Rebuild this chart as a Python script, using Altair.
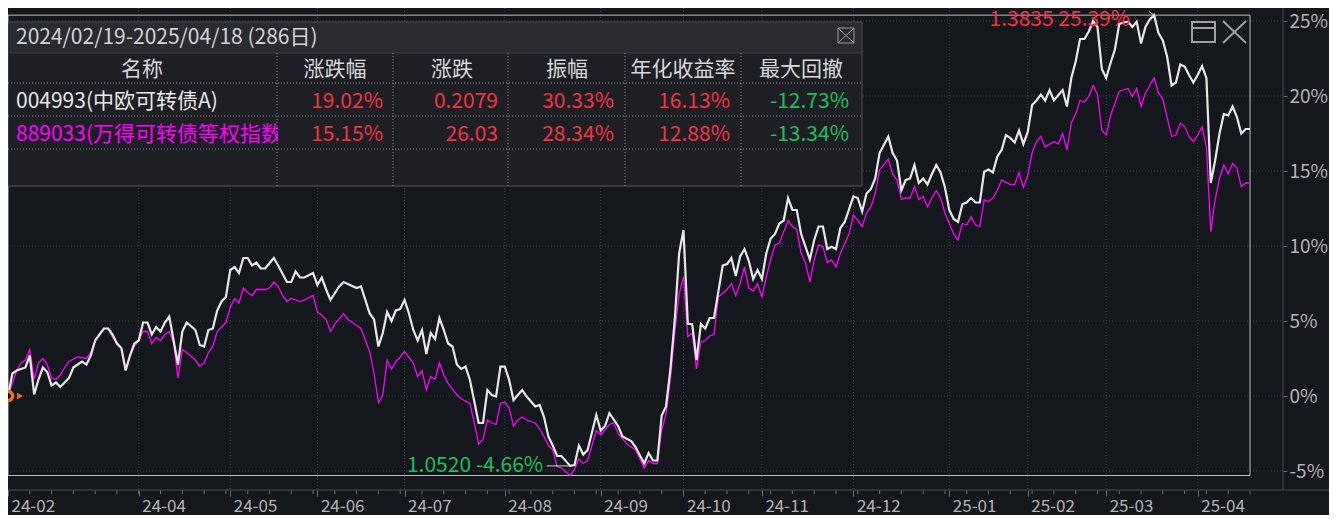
import altair as alt
import pandas as pd

FONT = "Noto Sans CJK SC"

# ---------------- data (trading-day index, cumulative return %) ----------------
fund_series = [
    (0, 0.0), (1, 1.5), (2, 1.7), (4, 1.9), (5, 2.7), (6, 0.1), (7, 1.1), (8, 1.9), (9, 1.6), (10, 0.7),
    (11, 0.9), (12, 0.6), (14, 1.2), (15, 1.9), (16, 2.1), (17, 2.3), (18, 2.1), (19, 2.7), (20, 3.7), (21, 4.1),
    (22, 4.5), (23, 4.5), (24, 4.1), (25, 3.5), (26, 3.2), (27, 1.7), (28, 2.7), (29, 3.5), (30, 3.7), (31, 4.9),
    (32, 4.9), (33, 4.1), (34, 4.6), (35, 4.3), (36, 4.9), (37, 5.3), (38, 3.7), (39, 2.1), (40, 4.3), (41, 4.9),
    (43, 4.4), (44, 3.4), (45, 3.3), (46, 4.4), (47, 4.5), (48, 5.7), (49, 6.3), (50, 6.6), (51, 8.4), (52, 8.6),
    (53, 8.2), (54, 9.2), (55, 9.2), (56, 8.7), (57, 8.9), (58, 8.5), (59, 8.5), (61, 9.2), (62, 8.7), (64, 7.6),
    (65, 7.6), (66, 8.3), (67, 7.9), (68, 7.9), (70, 8.2), (71, 7.4), (72, 7.9), (73, 7.1), (74, 6.4), (76, 7.3),
    (77, 7.6), (80, 7.2), (81, 7.3), (83, 5.5), (84, 5.1), (85, 3.3), (86, 4.2), (87, 5.6), (88, 5.0), (89, 5.7),
    (90, 5.8), (91, 6.4), (92, 5.5), (93, 4.4), (94, 3.7), (95, 4.4), (96, 2.8), (97, 4.2), (98, 3.8), (99, 5.2),
    (100, 4.4), (101, 3.5), (102, 3.3), (103, 2.1), (104, 1.8), (105, 1.96), (106, 1.07), (108, -1.8), (109, -1.8),
    (110, 0.4), (111, 0.07), (112, -0.04), (113, 1.96), (114, 1.96), (115, 1.07), (116, -0.27), (117, 0.07),
    (118, 0.4), (119, -0.04), (121, -0.7), (122, -0.6), (123, -1.4), (124, -2.7), (125, -3.3), (126, -4.0),
    (127, -4.0), (129, -4.66), (130, -4.6), (131, -3.3), (132, -3.9), (133, -3.6), (135, -1.27), (136, -2.3),
    (137, -2.0), (138, -1.15), (140, -2.0), (141, -2.7), (143, -3.0), (144, -3.4), (146, -4.5), (147, -3.8),
    (148, -4.3), (149, -4.3), (150, -1.3), (151, -0.7), (152, 1.8), (153, 5.07), (154, 9.5), (155, 11.07),
    (156, 4.8), (157, 4.8), (158, 2.4), (159, 4.8), (160, 4.5), (161, 5.2), (162, 5.2), (164, 8.7), (165, 8.8),
    (166, 9.2), (167, 8.0), (168, 9.3), (169, 9.8), (170, 9.0), (171, 7.8), (172, 8.4), (173, 7.8), (174, 9.5),
    (175, 10.5), (176, 10.8), (177, 11.5), (178, 11.7), (179, 13.2), (180, 12.4), (181, 12.4), (182, 10.8),
    (183, 9.95), (184, 9.1), (185, 10.4), (186, 11.3), (187, 11.3), (188, 9.8), (189, 9.95), (190, 9.8),
    (191, 11.2), (192, 11.6), (194, 13.3), (195, 13.2), (196, 12.3), (197, 13.5), (198, 13.8), (199, 14.5),
    (200, 16.2), (202, 17.3), (203, 16.2), (204, 15.7), (205, 13.7), (206, 14.4), (207, 14.5), (208, 15.4),
    (209, 14.2), (210, 14.5), (211, 14.1), (212, 14.8), (213, 15.4), (214, 14.9), (215, 13.9), (216, 12.4),
    (217, 11.8), (218, 11.6), (219, 12.8), (220, 12.9), (221, 13.2), (222, 12.9), (223, 12.9), (224, 14.95),
    (225, 15.1), (226, 14.9), (227, 15.96), (228, 16.4), (229, 17.4), (230, 17.2), (231, 16.9), (232, 17.7),
    (233, 16.8), (234, 17.6), (235, 19.4), (236, 19.7), (237, 20.1), (238, 19.7), (239, 20.4), (240, 19.7),
    (242, 20.4), (243, 19.3), (244, 21.2), (245, 22.3), (246, 23.8), (247, 23.8), (248, 24.3), (249, 25.0),
    (250, 24.6), (251, 21.8), (252, 21.2), (253, 22.2), (254, 23.1), (255, 24.8), (256, 24.9), (257, 24.95),
    (258, 24.6), (259, 24.95), (260, 23.5), (261, 24.6), (262, 25.1), (263, 25.39), (264, 24.2), (265, 23.7),
    (266, 22.6), (267, 20.7), (268, 20.9), (269, 22.1), (270, 21.96), (271, 21.4), (272, 20.9), (273, 21.4),
    (274, 22.0), (275, 21.2), (276, 14.2), (277, 15.7), (278, 17.5), (279, 18.8), (280, 18.7), (281, 19.3),
    (282, 18.6), (283, 17.5), (284, 17.8), (285, 17.8),
]

index_series = [
    (0, 0.0), (2, 1.7), (3, 2.2), (4, 2.4), (5, 3.1), (6, 1.1), (7, 2.2), (8, 2.5), (9, 2.1), (10, 1.2),
    (11, 1.1), (12, 1.4), (13, 1.9), (14, 2.3), (16, 2.6), (18, 2.5), (19, 2.9), (20, 3.7), (21, 4.1), (22, 4.5),
    (23, 4.5), (24, 3.9), (26, 3.2), (27, 1.9), (28, 2.7), (29, 3.3), (30, 3.7), (31, 4.3), (32, 4.3), (33, 3.5),
    (34, 3.9), (35, 3.7), (36, 4.1), (37, 4.3), (38, 3.5), (39, 1.2), (40, 3.1), (41, 2.9), (43, 2.4), (44, 2.0),
    (45, 2.2), (46, 2.9), (47, 3.3), (48, 4.3), (49, 4.6), (50, 4.9), (51, 5.9), (52, 6.5), (53, 6.2), (54, 7.2),
    (55, 6.9), (56, 6.7), (57, 7.1), (59, 7.1), (60, 7.2), (61, 7.6), (62, 7.3), (63, 6.7), (64, 6.3), (65, 6.5),
    (67, 6.3), (68, 6.4), (70, 6.7), (71, 5.6), (72, 5.4), (73, 5.1), (74, 4.3), (75, 4.8), (77, 5.5), (78, 5.1),
    (80, 4.7), (81, 4.5), (83, 2.96), (84, 1.5), (85, -0.44), (86, 0.07), (87, 2.4), (88, 1.8), (89, 2.3),
    (90, 2.6), (91, 2.96), (93, 2.2), (94, 1.3), (95, 1.7), (96, 0.4), (97, 1.3), (98, 1.1), (99, 2.2), (100, 1.4),
    (101, 0.84), (103, 0.07), (104, -0.18), (106, -0.5), (107, -1.8), (108, -3.2), (109, -2.9), (110, -1.6),
    (111, -1.8), (112, -1.9), (113, -0.5), (114, -0.4), (115, -0.8), (116, -2.0), (117, -1.6), (118, -1.4),
    (119, -1.6), (121, -1.8), (122, -2.2), (123, -2.7), (124, -3.3), (125, -3.6), (126, -4.7), (127, -4.8),
    (129, -5.3), (130, -4.9), (131, -4.2), (132, -4.5), (133, -4.3), (135, -2.3), (136, -2.6), (138, -1.9),
    (139, -1.8), (140, -2.5), (142, -3.2), (144, -3.6), (146, -4.8), (147, -4.3), (148, -4.5), (149, -4.5),
    (150, -2.3), (151, -1.2), (152, 1.07), (153, 4.2), (154, 6.8), (155, 7.95), (156, 3.95), (157, 4.2),
    (158, 1.8), (159, 3.6), (160, 3.7), (161, 4.0), (162, 4.1), (163, 6.6), (165, 7.1), (166, 7.5), (167, 6.7),
    (168, 7.5), (169, 8.6), (170, 7.2), (171, 7.0), (172, 7.5), (173, 6.6), (174, 7.95), (175, 9.07),
    (176, 10.07), (177, 10.2), (179, 11.7), (180, 11.3), (181, 11.1), (182, 9.5), (183, 8.9), (184, 7.6),
    (185, 9.07), (186, 10.07), (187, 9.95), (188, 8.9), (189, 9.07), (190, 8.6), (191, 9.5), (193, 10.8),
    (194, 12.07), (195, 11.7), (196, 11.3), (197, 12.2), (198, 12.6), (199, 13.5), (200, 15.07), (202, 15.8),
    (203, 14.8), (204, 14.4), (205, 13.1), (206, 13.2), (207, 13.2), (208, 13.96), (209, 13.1), (210, 13.3),
    (211, 12.6), (212, 13.2), (213, 13.7), (214, 13.2), (215, 12.2), (216, 11.5), (217, 10.8), (218, 10.4),
    (219, 11.5), (220, 11.4), (221, 11.96), (222, 11.4), (223, 11.3), (224, 13.07), (225, 12.96), (226, 13.2),
    (227, 13.7), (228, 14.4), (230, 14.1), (231, 14.1), (232, 14.9), (233, 13.9), (234, 14.7), (235, 16.2),
    (236, 16.96), (237, 17.3), (238, 16.6), (240, 16.96), (241, 16.8), (242, 17.5), (243, 16.4), (244, 18.2),
    (245, 18.8), (246, 19.7), (247, 19.6), (248, 19.96), (249, 20.7), (250, 20.1), (251, 17.7), (252, 17.4),
    (253, 18.7), (255, 20.3), (256, 20.4), (257, 20.5), (258, 19.96), (259, 20.5), (260, 19.3), (261, 20.2),
    (262, 20.7), (263, 21.2), (264, 20.2), (265, 19.8), (267, 17.3), (268, 17.4), (269, 18.2), (270, 17.96),
    (271, 17.3), (272, 16.96), (273, 17.4), (274, 17.96), (275, 16.6), (276, 10.96), (277, 13.07), (278, 14.5),
    (279, 15.4), (280, 14.8), (281, 15.5), (282, 15.2), (283, 13.96), (284, 14.2), (285, 14.2),
]

month_days = [0, 30, 51, 71, 91, 114, 136, 155, 173, 194, 216, 234, 252, 273]
month_labels = ["24-02", "24-04", "24-05", "24-06", "24-07", "24-08", "24-09",
                "24-10", "24-11", "24-12", "25-01", "25-02", "25-03", "25-04"]
y_ticks = [-5, 0, 5, 10, 15, 20, 25]

peak_nav = "1.3835"
trough_nav = "1.0520"

table_title = "2024/02/19-2025/04/18 (286日)"
table_headers = ["名称", "涨跌幅", "涨跌", "振幅", "年化收益率", "最大回撤"]
row_names = ["004993(中欧可转债A)", "889033(万得可转债等权指数)"]
row_values = [
    ["19.02%", "0.2079", "30.33%", "16.13%", "-12.73%"],
    ["15.15%", "26.03", "28.34%", "12.88%", "-13.34%"],
]

# ---------------- layout / style ----------------
W, H = 1321, 507    # whole drawing
AX_Y = 482          # bottom axis line (view height)
AX_X = 1275         # right axis line (view width)
BG = "#14171c"
GRID = "#3a3d45"
SEP = "#4a4d55"
AXIS_TXT = "#b4b4b4"
WHITE = "#e8e8e8"
MAGENTA = "#ff00ff"
RED = "#f5333f"
GREEN = "#1fbf5a"
ORANGE = "#f07018"
TBL_BG = "#1e1f25"
FS = 21

tbl = dict(l=0, r=854, t=14, b=178, title_b=45)
tbl_hlines = [75, 108, 141]
tbl_vlines = [269, 385, 500, 617, 733]
header_cx = [134, 327, 444, 559, 675, 793]
header_cy = 62
row_cy = [94, 127]
value_right = [375, 490, 606, 722, 841]
name_color = [WHITE, MAGENTA]

fund_df = pd.DataFrame(fund_series, columns=["day", "val"])
index_df = pd.DataFrame(index_series, columns=["day", "val"])
last_day = int(fund_df["day"].max())
vmax = max(fund_df["val"].max(), index_df["val"].max())
vmin = min(fund_df["val"].min(), index_df["val"].min())
peak_row = fund_df.loc[fund_df["val"].idxmax()]
trough_row = fund_df.loc[fund_df["val"].idxmin()]

x_scale = alt.Scale(domain=[0, last_day], range=[0, 1242], nice=False, zero=False)
y_scale = alt.Scale(domain=[-5, 25], range=[463, 13], nice=False, zero=False)

one = pd.DataFrame({"k": [0]})

label_expr = ("[" + ",".join(f"'{m}'" for m in month_labels) + "][indexof(["
              + ",".join(str(d) for d in month_days) + "], datum.value)]")

# the same axis objects are given to every layer that uses a scale, so they merge cleanly
x_axis = alt.Axis(values=month_days, labelExpr=label_expr, orient="bottom",
                  domain=False, grid=False, ticks=True, tickSize=6, tickColor="#6a6d74",
                  labelColor=AXIS_TXT, labelFont=FONT, labelFontSize=17, labelAlign="left",
                  labelBaseline="top", labelPadding=2, labelOffset=3, labelFlush=False,
                  labelOverlap=False, title=None)
y_axis = alt.Axis(values=y_ticks, labelExpr="datum.value + '%'", orient="right",
                  domain=False, grid=False, ticks=True, tickSize=4, tickColor="#6a6d74",
                  labelColor=AXIS_TXT, labelFont=FONT, labelFontSize=19, labelPadding=2,
                  labelAlign="left", labelBaseline="middle", labelFlush=False, title=None)


def X(field):
    return alt.X(field, scale=x_scale, axis=x_axis, title=None)


def Y(field):
    return alt.Y(field, scale=y_scale, axis=y_axis, title=None)


def XD(v):
    return alt.XDatum(v, scale=x_scale, axis=x_axis, title=None)


def YD(v):
    return alt.YDatum(v, scale=y_scale, axis=y_axis, title=None)


layers = []

# horizontal dotted grid
layers.append(
    alt.Chart(pd.DataFrame({"v": y_ticks})).mark_rule(color=GRID, strokeDash=[1, 2], strokeWidth=1).encode(
        y=Y("v:Q"), x=alt.value(0), x2=alt.value(AX_X))
)
# vertical dotted grid at month starts
layers.append(
    alt.Chart(pd.DataFrame({"d": month_days[1:]})).mark_rule(color=GRID, strokeDash=[1, 2], strokeWidth=1).encode(
        x=X("d:Q"), y=alt.value(0), y2=alt.value(AX_Y))
)
# minor ticks under the axis line
layers.append(
    alt.Chart(pd.DataFrame({"d": list(range(0, last_day + 1, 5))})).mark_rule(color="#6a6d74").encode(
        x=X("d:Q"), y=alt.value(AX_Y), y2=alt.value(AX_Y + 4))
)
# separators
layers.append(alt.Chart(one).mark_rule(color=SEP, strokeWidth=1).encode(
    x=alt.value(0), x2=alt.value(W), y=alt.value(AX_Y)))
layers.append(alt.Chart(one).mark_rule(color=SEP, strokeWidth=1).encode(
    x=alt.value(AX_X), y=alt.value(0), y2=alt.value(AX_Y)))

# plot frame bounded by data extremes
layers.append(alt.Chart(one).mark_rect(fillOpacity=0, stroke="#bdbdbd", strokeWidth=1).encode(
    x=XD(0), x2=alt.datum(last_day), y=YD(float(vmax)), y2=alt.datum(float(vmin))))

# series lines
layers.append(alt.Chart(index_df).mark_line(color=MAGENTA, strokeWidth=1.3).encode(
    x=X("day:Q"), y=Y("val:Q")))
layers.append(alt.Chart(fund_df).mark_line(color=WHITE, strokeWidth=2.2).encode(
    x=X("day:Q"), y=Y("val:Q")))

# start marker
layers.append(alt.Chart(one).mark_point(shape="circle", filled=True, color=ORANGE, size=160, opacity=1).encode(
    x=XD(0), y=YD(0)))
layers.append(alt.Chart(one).mark_point(shape="circle", filled=True, color="#000000", size=30, opacity=1).encode(
    x=XD(0), y=YD(0)))
layers.append(alt.Chart(one).mark_point(shape="triangle-right", filled=True, color=ORANGE, size=45,
                                        opacity=1, xOffset=12).encode(x=XD(0), y=YD(0)))

# peak / trough annotations
layers.append(alt.Chart(one).mark_text(align="right", baseline="alphabetic", dx=-24, dy=11, font=FONT,
                                       fontSize=FS, color=RED).encode(
    x=XD(int(peak_row["day"])), y=YD(float(peak_row["val"])),
    text=alt.value(f"{peak_nav} {peak_row['val']:.2f}%")))
layers.append(alt.Chart(one).mark_rule(color="#d8d8d8", strokeWidth=1).encode(
    x=XD(int(peak_row["day"])), y=YD(float(peak_row["val"])),
    x2=alt.datum(int(peak_row["day"]) - 1.2), y2=alt.datum(float(peak_row["val"]) + 0.25)))
layers.append(alt.Chart(one).mark_text(align="right", baseline="middle", dx=-27, dy=0, font=FONT,
                                       fontSize=FS, color=GREEN).encode(
    x=XD(int(trough_row["day"])), y=YD(float(trough_row["val"])),
    text=alt.value(f"{trough_nav} {trough_row['val']:.2f}%")))
layers.append(alt.Chart(one).mark_tick(orient="horizontal", size=23, thickness=1, xOffset=-12,
                                       color="#d8d8d8", opacity=1).encode(
    x=XD(int(trough_row["day"])), y=YD(float(trough_row["val"]))))

# ---------------- statistics table overlay ----------------
def rect(x, x2, y, y2, **kw):
    return alt.Chart(one).mark_rect(**kw).encode(
        x=alt.value(x), x2=alt.value(x2), y=alt.value(y), y2=alt.value(y2))


def line(x, y, x2, y2, **kw):
    return alt.Chart(one).mark_rule(**kw).encode(
        x=alt.value(x), y=alt.value(y), x2=alt.value(x2), y2=alt.value(y2))


def label(x, y, txt, align, color, size=FS):
    return alt.Chart(one).mark_text(align=align, baseline="middle", font=FONT, fontSize=size,
                                    color=color).encode(
        x=alt.value(x), y=alt.value(y), text=alt.value(txt))


layers.append(rect(tbl["l"], tbl["r"], tbl["t"], tbl["b"], fill=TBL_BG, stroke="#55565d", strokeWidth=1))
layers.append(rect(tbl["l"] + 1, tbl["r"] - 1, tbl["t"] + 1, tbl["title_b"], fill="#2a2b31"))
layers.append(line(tbl["l"], tbl["title_b"], tbl["r"], tbl["title_b"], color="#3c3d44", strokeWidth=1))

layers.append(label(8, 30, table_title, "left", "#d4d4d4"))
for cx, h in zip(header_cx, table_headers):
    layers.append(label(cx, header_cy, h, "center", "#d8d8d8"))
for r, (nm, vals) in enumerate(zip(row_names, row_values)):
    layers.append(label(8, row_cy[r], nm, "left", name_color[r]))
    # the name column clips its text at the column border
    layers.append(rect(tbl_vlines[0] + 1, tbl_vlines[0] + 34, tbl_hlines[r] + 1, tbl_hlines[r + 1] - 1,
                       fill=TBL_BG))
    for xr, v in zip(value_right, vals):
        col = GREEN if v.startswith("-") else RED
        layers.append(label(xr, row_cy[r], v, "right", col))

for yy in tbl_hlines:
    layers.append(line(tbl["l"], yy, tbl["r"], yy, color="#85868c", strokeDash=[1, 2], strokeWidth=1))
for xx in tbl_vlines:
    layers.append(line(xx, tbl["title_b"], xx, tbl["b"], color="#85868c", strokeDash=[1, 2], strokeWidth=1))

# close icon in the table title row
layers.append(rect(830, 846, 20, 35, fillOpacity=0, stroke="#9a9a9a", strokeWidth=1))
layers.append(line(830, 20, 846, 35, color="#9a9a9a", strokeWidth=1))
layers.append(line(830, 35, 846, 20, color="#9a9a9a", strokeWidth=1))

# window icons at top right
layers.append(rect(1184, 1207, 14, 34, fillOpacity=0, stroke="#a0a0a0", strokeWidth=2))
layers.append(line(1184, 20, 1207, 20, color="#a0a0a0", strokeWidth=2))
layers.append(line(1215, 13, 1238, 35, color="#a0a0a0", strokeWidth=2))
layers.append(line(1215, 35, 1238, 13, color="#a0a0a0", strokeWidth=2))

chart = alt.layer(*layers).properties(
    width=AX_X, height=AX_Y, autosize=alt.AutoSizeParams(type="none"),
    padding={"left": 0, "top": 0, "right": W - AX_X, "bottom": H - AX_Y}, background=BG
).configure_view(strokeWidth=0)

chart.save("out.html", embed_options={"renderer": "svg", "actions": False})
